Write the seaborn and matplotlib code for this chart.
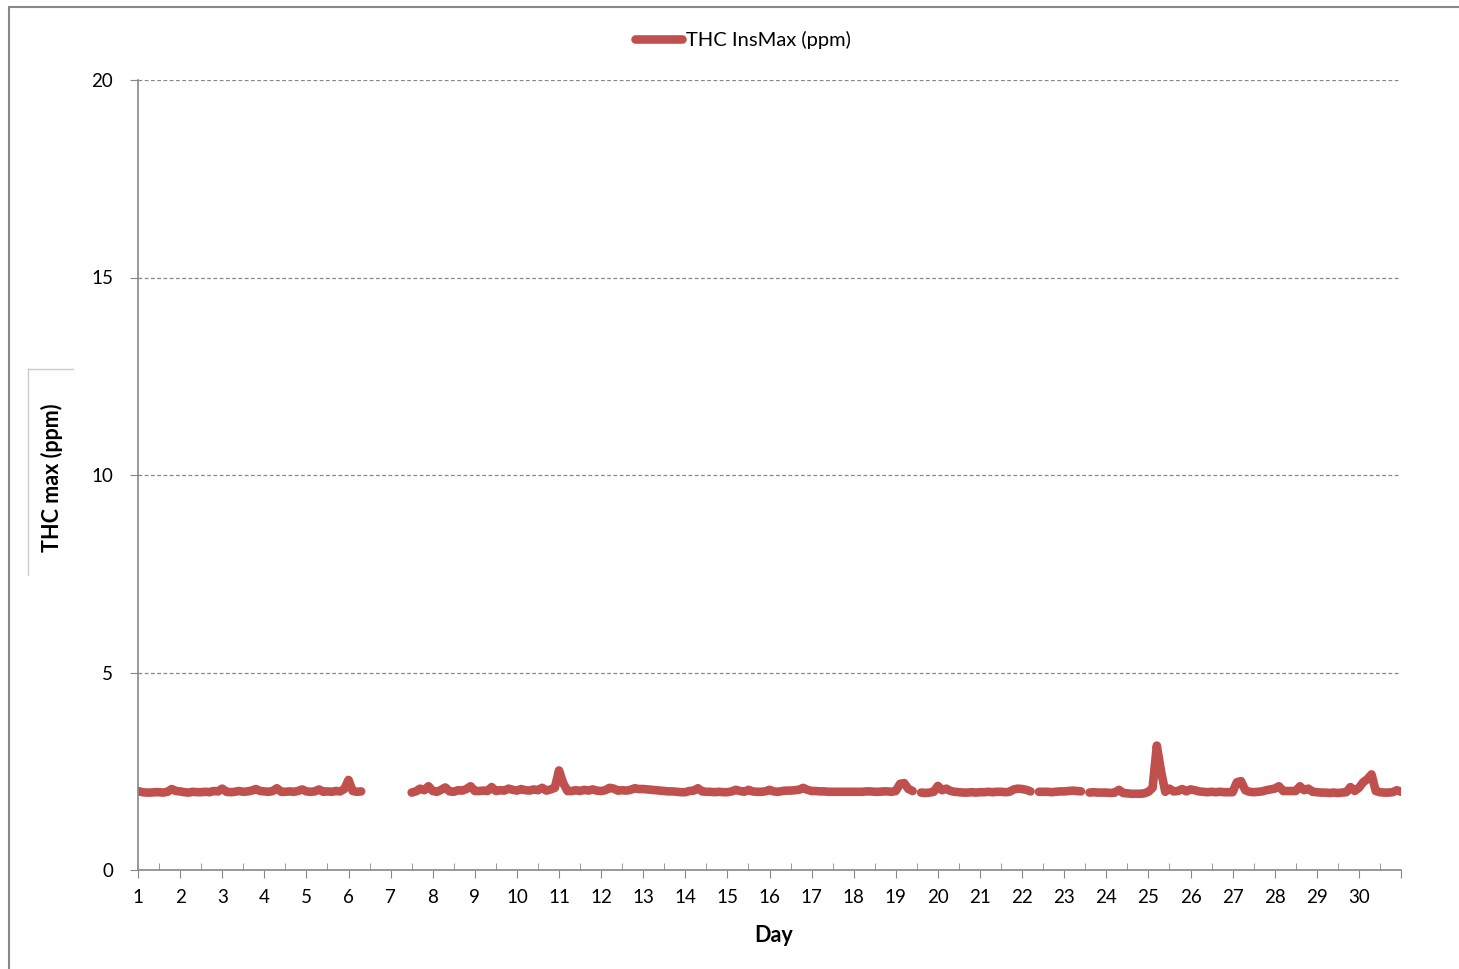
import numpy as np
import pandas as pd
import matplotlib
matplotlib.use("Agg")
import matplotlib.pyplot as plt
import seaborn as sns
from matplotlib.lines import Line2D
from matplotlib.patches import Rectangle

nan = np.nan

# readings every 0.1 day (2.4 h), one row per day; nan = no data
thc_by_day = [
    [2.00, 1.97, 1.96, 1.96, 1.97, 1.97, 1.96, 1.98, 2.05, 2.00],   # 1
    [1.99, 1.97, 1.96, 1.98, 1.97, 1.97, 1.98, 1.97, 2.00, 1.99],   # 2
    [2.06, 1.98, 1.97, 1.98, 2.00, 1.98, 1.99, 2.01, 2.05, 2.00],   # 3
    [1.99, 1.98, 2.00, 2.07, 1.98, 1.98, 1.99, 1.98, 2.00, 2.04],   # 4
    [1.99, 1.98, 1.99, 2.04, 1.98, 1.99, 1.98, 2.00, 1.99, 2.05],   # 5
    [2.28, 2.00, 1.98, 1.99, nan, nan, nan, nan, nan, nan],         # 6
    [nan, nan, nan, nan, nan, 1.96, 1.99, 2.06, 2.02, 2.12],        # 7
    [2.00, 1.98, 2.03, 2.09, 1.99, 1.98, 2.02, 2.01, 2.05, 2.12],   # 8
    [2.00, 2.00, 2.01, 2.00, 2.10, 2.00, 2.02, 2.01, 2.06, 2.03],   # 9
    [2.01, 2.05, 2.02, 2.01, 2.04, 2.02, 2.08, 2.01, 2.04, 2.08],   # 10
    [2.52, 2.20, 2.00, 2.00, 2.02, 2.00, 2.03, 2.01, 2.04, 2.01],   # 11
    [2.00, 2.02, 2.08, 2.06, 2.01, 2.02, 2.01, 2.03, 2.07, 2.05],   # 12
    [2.05, 2.04, 2.03, 2.02, 2.01, 2.00, 1.99, 1.99, 1.98, 1.97],   # 13
    [1.97, 2.00, 2.01, 2.07, 1.99, 1.98, 1.98, 1.97, 1.98, 1.97],   # 14
    [1.97, 1.99, 2.03, 2.00, 1.98, 2.03, 1.99, 1.98, 1.98, 1.99],   # 15
    [2.03, 1.99, 1.98, 2.00, 2.01, 2.01, 2.02, 2.03, 2.08, 2.03],   # 16
    [2.00, 2.00, 1.99, 1.99, 1.98, 1.98, 1.98, 1.98, 1.98, 1.98],   # 17
    [1.98, 1.98, 1.98, 1.99, 1.99, 1.98, 1.98, 1.99, 1.99, 1.98],   # 18
    [2.00, 2.18, 2.20, 2.05, 2.00, nan, 1.96, 1.95, 1.96, 1.98],    # 19
    [2.13, 2.02, 2.06, 2.00, 1.98, 1.97, 1.96, 1.96, 1.97, 1.96],   # 20
    [1.97, 1.97, 1.98, 1.97, 1.98, 1.98, 1.97, 1.98, 2.04, 2.06],   # 21
    [2.05, 2.03, 1.99, nan, 1.98, 1.98, 1.98, 1.97, 1.98, 1.99],    # 22
    [1.99, 2.00, 2.01, 2.00, 1.99, nan, 1.96, 1.97, 1.96, 1.96],    # 23
    [1.96, 1.95, 1.96, 2.03, 1.95, 1.94, 1.93, 1.93, 1.93, 1.94],   # 24
    [1.98, 2.08, 3.15, 2.50, 1.98, 2.06, 1.99, 2.00, 2.05, 1.99],   # 25
    [2.04, 2.02, 1.99, 1.98, 1.97, 1.98, 1.97, 1.98, 1.97, 1.97],   # 26
    [1.97, 2.22, 2.25, 2.02, 1.98, 1.97, 1.98, 1.99, 2.02, 2.04],   # 27
    [2.06, 2.12, 2.00, 2.00, 2.00, 2.00, 2.12, 2.02, 2.06, 1.98],   # 28
    [1.97, 1.96, 1.96, 1.95, 1.96, 1.95, 1.96, 1.97, 2.10, 2.00],   # 29
    [2.08, 2.22, 2.30, 2.42, 2.00, 1.97, 1.96, 1.96, 1.97, 2.02],   # 30
]
thc_last = [1.98]  # day 31.0

day_ticks = list(range(1, 32))
day_labels = [str(d) for d in range(1, 31)] + [""]
y_ticks = [0, 5, 10, 15, 20]

values = np.array(sum(thc_by_day, []) + thc_last)
days = np.round(1 + np.arange(len(values)) * 0.1, 1)

df = pd.DataFrame({"Day": days, "THC": values})
df["segment"] = df["THC"].isna().cumsum()
df = df.dropna()

fig = plt.figure(figsize=(14.59, 9.69), dpi=100)
ax = fig.add_axes([138 / 1459, 1 - 870 / 969, (1401 - 138) / 1459, (870 - 80) / 969])

font = "Lato"
red = "#C0504D"

sns.lineplot(data=df, x="Day", y="THC", units="segment", estimator=None,
             color=red, linewidth=6.2, solid_capstyle="round", ax=ax, legend=False)

ax.set_xlim(1, 31)
ax.set_ylim(0, 20)
ax.set_xticks(day_ticks)
ax.set_xticklabels(day_labels, fontsize=13.5, family=font)
ax.set_xticks([d + 0.5 for d in range(1, 31)], minor=True)
ax.set_yticks(y_ticks)
ax.set_yticklabels([str(v) for v in y_ticks], fontsize=13.5, family=font)
ax.tick_params(axis="x", which="major", direction="out", length=6, color="#888888", pad=8)
ax.tick_params(axis="x", which="minor", direction="in", length=5, color="#888888")
ax.tick_params(axis="y", direction="out", length=6, color="#888888", pad=12)

for v in y_ticks[1:]:
    ax.axhline(v, color="#888888", linestyle=(0, (3, 2)), linewidth=0.9, zorder=0)

for side in ["top", "right"]:
    ax.spines[side].set_visible(False)
for side in ["left", "bottom"]:
    ax.spines[side].set_color("#888888")
    ax.spines[side].set_linewidth(1.2)

ax.set_xlabel("Day", fontsize=15.5, fontweight="bold", family=font)
ax.xaxis.set_label_coords((774 - 138) / 1263, -(925 - 870) / 790)
ax.set_ylabel("THC max (ppm)", fontsize=15.5, fontweight="bold", family=font)
ax.yaxis.set_label_coords(-(138 - 63) / 1263, (870 - 478) / 790)

handle = Line2D([], [], color=red, linewidth=6.2, solid_capstyle="round")
leg = fig.legend([handle], ["THC InsMax (ppm)"], loc="center", bbox_to_anchor=(743 / 1459, 1 - 40 / 969),
                 frameon=False, handlelength=2.3, handletextpad=0.2, prop={"family": font, "size": 14.5})

# outer chart frame and the little box round the axis title
fig.add_artist(Rectangle((9 / 1459, -0.01), 1.0, 1 - 7 / 969 + 0.01, transform=fig.transFigure,
                         fill=False, edgecolor="#888888", linewidth=1.5))
fig.add_artist(Line2D([28 / 1459, 28 / 1459], [1 - 369 / 969, 1 - 575 / 969],
                      transform=fig.transFigure, color="#cccccc", linewidth=1))
fig.add_artist(Line2D([28 / 1459, 73 / 1459], [1 - 369 / 969, 1 - 369 / 969],
                      transform=fig.transFigure, color="#cccccc", linewidth=1))

fig.savefig("out.png", dpi=100)
